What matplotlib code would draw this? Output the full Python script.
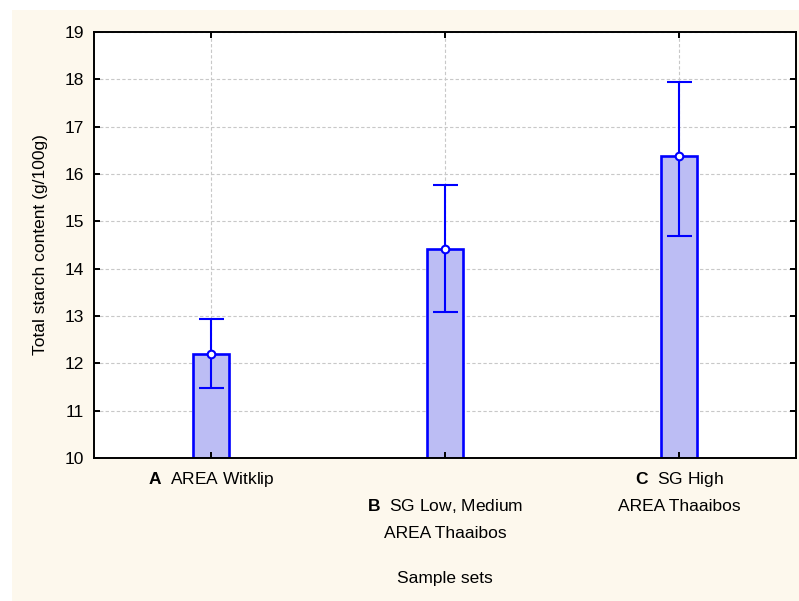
import numpy as np
import matplotlib.pyplot as plt
from matplotlib.patches import Rectangle
import matplotlib.transforms as mtransforms

plt.rcParams['font.family'] = ['Liberation Sans', 'DejaVu Sans']
plt.rcParams['mathtext.fontset'] = 'custom'
plt.rcParams['mathtext.rm'] = 'Liberation Sans'
plt.rcParams['mathtext.bf'] = 'Liberation Sans:bold'

# Sample set means and error bar limits (g/100g)
groups = ['A', 'B', 'C']
group_text = ['AREA Witklip', 'SG Low, Medium\nAREA Thaaibos', 'SG High\nAREA Thaaibos']
means = [12.20, 14.42, 16.38]
upper = [12.94, 15.76, 17.94]
lower = [11.47, 13.08, 14.70]
yticks = [10, 11, 12, 13, 14, 15, 16, 17, 18, 19]

BLUE = '#0000ff'
FILL = '#bcbdf4'
CREAM = '#fdf8ed'

fig = plt.figure(figsize=(7.99, 6.01), dpi=100)
fig.patch.set_facecolor('white')
fig.patches.append(Rectangle((12 / 799, 0), 1 - 12 / 799, 1 - 10 / 601,
                             transform=fig.transFigure, facecolor=CREAM,
                             edgecolor='none', zorder=-10))

ax = fig.add_axes([94 / 799, (601 - 458) / 601, (796 - 94) / 799, (458 - 32) / 601])
ax.set_facecolor('white')

x = np.arange(len(groups))
means_a = np.array(means)
yerr = [means_a - np.array(lower), np.array(upper) - means_a]

# dashed grid drawn under the bars
for yv in yticks:
    ax.axhline(yv, color='#c8c8c8', lw=0.8, dashes=(3, 2), zorder=0.5)
for xv in x:
    ax.axvline(xv, color='#c8c8c8', lw=0.8, dashes=(3, 2), zorder=0.5)

ax.bar(x, means_a - 10, bottom=10, width=0.153, color=FILL,
       edgecolor=BLUE, linewidth=1.9, zorder=1)
ax.errorbar(x, means_a, yerr=yerr, fmt='none', ecolor=BLUE,
            elinewidth=1.5, capsize=9, capthick=1.5, zorder=3)
ax.plot(x, means_a, 'o', ms=5.5, mfc='white', mec=BLUE, mew=1.5, zorder=4)

ax.set_xlim(-0.5, 2.5)
ax.set_ylim(10, 19)
ax.set_yticks(yticks)
ax.set_xticks(x)
ax.set_xticklabels([])

for sp in ax.spines.values():
    sp.set_linewidth(1.4)
    sp.set_color('black')

ax.tick_params(axis='both', direction='in', length=4, width=1.4,
               top=True, right=True, labelsize=12.5, colors='black')
ax.tick_params(axis='y', pad=7)

# category labels: bold letter followed by description
trans = mtransforms.blended_transform_factory(ax.transData, ax.transAxes)
offsets = [0, 1, 0]
for xi, g, txt, off in zip(x, groups, group_text, offsets):
    lines = txt.split('\n')
    lines[0] = r'$\mathbf{' + g + r'}$  ' + lines[0]
    label = '\n' * off + '\n'.join(lines)
    ax.text(xi, -0.027, label, transform=trans, ha='center', va='top',
            fontsize=12.5, linespacing=1.9, multialignment='center')

ax.set_ylabel('Total starch content (g/100g)', fontsize=12.5, labelpad=12)
fig.text(445 / 799, 1 - 578 / 601, 'Sample sets', ha='center', va='center',
         fontsize=12.5)

fig.savefig('out.png', dpi=100)
